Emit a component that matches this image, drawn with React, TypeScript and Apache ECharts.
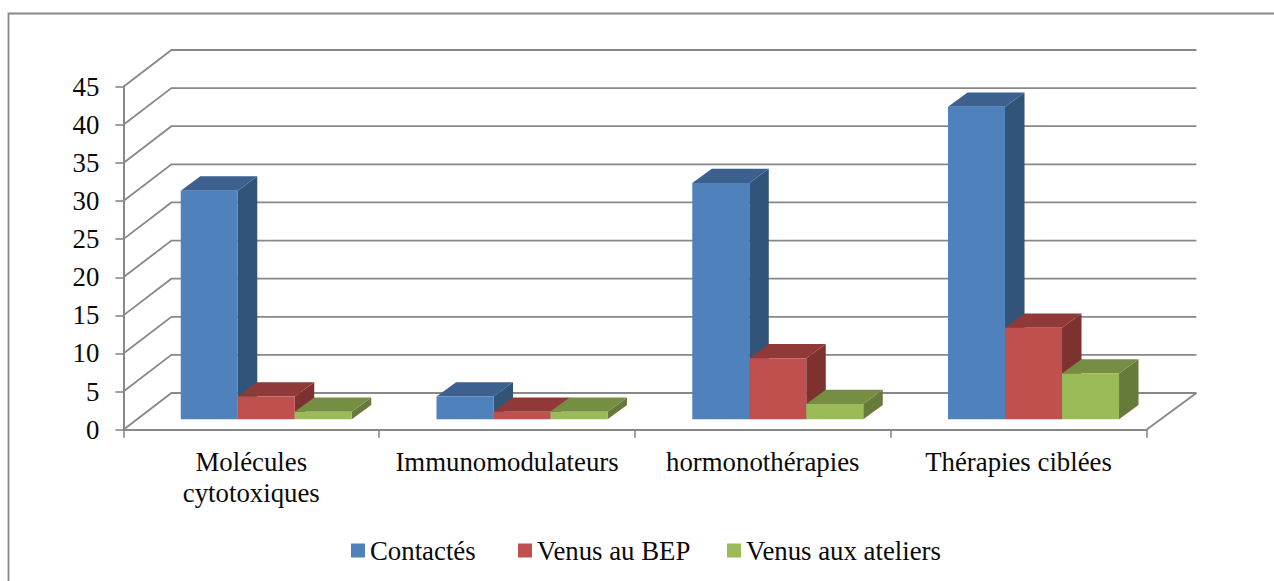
import React, { useEffect, useRef } from "react";
import * as echarts from "echarts";

const categories = ["Molécules\ncytotoxiques", "Immunomodulateurs", "hormonothérapies", "Thérapies ciblées"];
const contactes = [30, 3, 31, 41];
const venusBep = [3, 1, 8, 12];
const venusAteliers = [1, 1, 2, 6];
const yTicks = [0, 5, 10, 15, 20, 25, 30, 35, 40, 45];

const seriesNames = ["Contactés", "Venus au BEP", "Venus aux ateliers"];
const legendLefts = [346, 513, 722];
const faceColors = [
  { front: "#4F81BD", top: "#3C618F", side: "#325479" },
  { front: "#C0504D", top: "#8F3A38", side: "#7D3230" },
  { front: "#9BBB59", top: "#758E44", side: "#667B3A" },
];

const FONT = '"Liberation Serif", "Times New Roman", serif';
const GRID = "#888888";
const TEXT = "#0a0a0a";
const FONT_SIZE = 26.8;
const WALL_DX = 48;
const WALL_DY = 36.7;
const WALL_DX_RIGHT = 50;
const BAR_W = 57;
const BAR_START = -70.5; // offset of the first bar from the category centre
const BAR_SHIFT_Y = 10.4;
const BAR_DX = 19.5;
const BAR_DY = 14.3;

function wallItem(params: any, api: any) {
  const cs = params.coordSys;
  const y = api.coord([0, api.value(1)])[1];
  const left = cs.x;
  const right = cs.x + cs.width;
  const children: any[] = [
    {
      type: "polyline",
      shape: {
        points: [
          [left, y],
          [left + WALL_DX, y - WALL_DY],
          [right + WALL_DX_RIGHT, y - WALL_DY],
        ],
      },
      style: { stroke: GRID, lineWidth: 1.8, fill: "none" },
    },
  ];
  if (api.value(1) === 0) {
    children.push({
      type: "line",
      shape: { x1: right, y1: y, x2: right + WALL_DX_RIGHT, y2: y - WALL_DY },
      style: { stroke: GRID, lineWidth: 1.8 },
    });
  }
  return { type: "group", children };
}

function barRenderer(seriesIndex: number) {
  return (_params: any, api: any) => {
    const cat = api.value(0);
    const c0 = api.coord([cat, 0]);
    const cv = api.coord([cat, api.value(1)]);
    const x0 = c0[0] + BAR_START + seriesIndex * BAR_W;
    const x1 = x0 + BAR_W;
    const yb = c0[1] - BAR_SHIFT_Y;
    const yt = cv[1] - BAR_SHIFT_Y;
    const col = faceColors[seriesIndex];
    return {
      type: "group",
      children: [
        {
          type: "polygon",
          shape: { points: [[x1, yb], [x1 + BAR_DX, yb - BAR_DY], [x1 + BAR_DX, yt - BAR_DY], [x1, yt]] },
          style: { fill: col.side },
        },
        {
          type: "polygon",
          shape: { points: [[x0, yt], [x1, yt], [x1 + BAR_DX, yt - BAR_DY], [x0 + BAR_DX, yt - BAR_DY]] },
          style: { fill: col.top },
        },
        {
          type: "rect",
          shape: { x: x0, y: yt, width: BAR_W, height: yb - yt },
          style: { fill: col.front },
        },
      ],
    };
  };
}

export default function App() {
  const ref = useRef<HTMLDivElement>(null);
  useEffect(() => {
    document.body.style.margin = "0";
    const chart = echarts.init(ref.current!, null, { renderer: "svg" });
    const values = [contactes, venusBep, venusAteliers];
    chart.setOption({
      animation: false,
      backgroundColor: "#ffffff",
      textStyle: { fontFamily: FONT },
      color: faceColors.map((c) => c.front),
      grid: { left: 123.4, top: 86.7, width: 1023, height: 343, containLabel: false },
      graphic: [
        {
          type: "polyline",
          silent: true,
          shape: { points: [[8.5, 581], [8.5, 13.5], [1274, 13.5]] },
          style: { stroke: GRID, lineWidth: 1.8, fill: "none" },
        },
      ],
      legend: seriesNames.map((name, i) => ({
        left: legendLefts[i],
        top: 532,
        data: [name],
        icon: "rect",
        itemWidth: 14,
        itemHeight: 14,
        textStyle: { fontFamily: FONT, fontSize: FONT_SIZE, color: TEXT },
      })),
      xAxis: {
        type: "category",
        data: categories,
        boundaryGap: true,
        axisLine: { show: true, lineStyle: { color: GRID, width: 2 } },
        axisTick: { show: true, alignWithLabel: false, length: 8, lineStyle: { color: GRID, width: 1.6 } },
        axisLabel: {
          interval: 0,
          margin: 17,
          fontFamily: FONT,
          fontSize: FONT_SIZE,
          lineHeight: 31,
          color: TEXT,
        },
        splitLine: { show: false },
      },
      yAxis: {
        type: "value",
        min: 0,
        max: 45,
        interval: 5,
        axisLine: { show: true, lineStyle: { color: GRID, width: 2 } },
        axisTick: { show: true, length: 8, lineStyle: { color: GRID, width: 1.6 } },
        axisLabel: { margin: 24, fontFamily: FONT, fontSize: FONT_SIZE, color: TEXT },
        splitLine: { show: false },
      },
      series: [
        {
          type: "custom",
          name: "wall",
          silent: true,
          clip: false,
          encode: { x: 0, y: 1 },
          data: yTicks.map((v) => [0, v]),
          renderItem: wallItem,
        },
        ...seriesNames.map((name, s) => ({
          type: "custom",
          name,
          clip: false,
          encode: { x: 0, y: 1 },
          itemStyle: { color: faceColors[s].front },
          data: values[s].map((v, i) => [i, v]),
          renderItem: barRenderer(s),
        })),
      ],
    });
    return () => chart.dispose();
  }, []);
  return <div ref={ref} style={{ width: 1274, height: 581 }} />;
}
